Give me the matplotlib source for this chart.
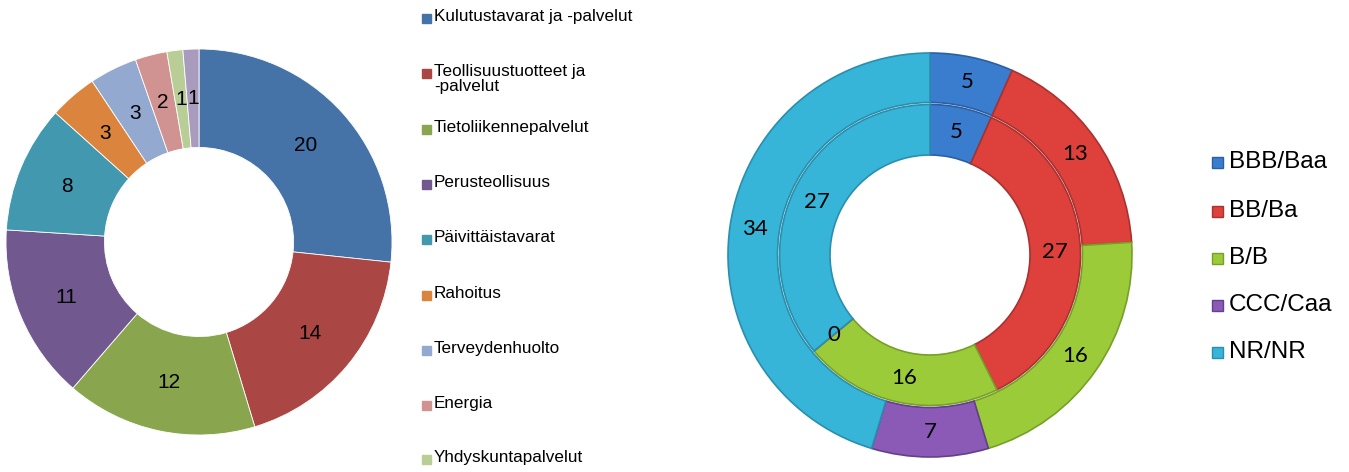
import numpy as np
import matplotlib.pyplot as plt
from matplotlib.patches import Rectangle

# left donut: sector breakdown
sectors = [
    "Kulutustavarat ja -palvelut",
    "Teollisuustuotteet ja\n-palvelut",
    "Tietoliikennepalvelut",
    "Perusteollisuus",
    "Päivittäistavarat",
    "Rahoitus",
    "Terveydenhuolto",
    "Energia",
    "Yhdyskuntapalvelut",
    "Informaatioteknologia",
]
sector_values = [20, 14, 12, 11, 8, 3, 3, 2, 1, 1]
sector_colors = ["#4572A7", "#AA4643", "#89A54E", "#71588F", "#4198AF",
                 "#DB843D", "#93A9CF", "#D19392", "#B9CD96", "#A99BBD"]

# right donut: ratings, outer and inner ring
ratings = ["BBB/Baa", "BB/Ba", "B/B", "CCC/Caa", "NR/NR"]
outer_values = [5, 13, 16, 7, 34]
inner_values = [5, 27, 16, 0, 27]
rating_colors = ["#3A7DCF", "#DE403C", "#9CCB3A", "#8A5AB6", "#36B5D8"]
rating_edges = ["#2A5FA3", "#A83230", "#76A02A", "#643F8C", "#2A8EAD"]

W, H = 1349, 472
fig = plt.figure(figsize=(W / 100, H / 100), dpi=100)


def fx(px):
    return px / W


def fy(py):
    return 1 - py / H


# ---- left donut
ax1 = fig.add_axes([fx(6), fy(242 + 193), fx(386), 386 / H])
wedges, _ = ax1.pie(
    sector_values, colors=sector_colors, startangle=90, counterclock=False,
    radius=1, wedgeprops=dict(width=0.51, edgecolor="white", linewidth=0.6),
)
for w, v in zip(wedges, sector_values):
    ang = np.deg2rad((w.theta1 + w.theta2) / 2)
    r = 0.745
    ax1.text(r * np.cos(ang), r * np.sin(ang), str(v), ha="center", va="center",
             fontsize=15, family="Liberation Sans", color="black")
ax1.set_xlim(-1, 1)
ax1.set_ylim(-1, 1)
ax1.set_aspect("equal")
ax1.axis("off")

# left legend: only the entries that fit on the canvas (the last one is cut off)
leg_y = [18, 73, 129, 184, 239, 295, 350, 405, 459]
for name, col, y in zip(sectors, sector_colors, leg_y):
    fig.patches.append(Rectangle((fx(422), fy(y + 4.5)), fx(8.5), 8.5 / H,
                                 transform=fig.transFigure, color=col))
    fig.text(fx(434), fy(y - 9), name, ha="left", va="top", fontsize=12.3,
             family="Liberation Sans", linespacing=1.0)

# ---- right donut
ax2 = fig.add_axes([fx(728), fy(255 + 202), fx(404), 404 / H])
outer, _ = ax2.pie(
    outer_values, colors=rating_colors, startangle=90, counterclock=False,
    radius=1, wedgeprops=dict(width=0.245, linewidth=1.2),
)
inner, _ = ax2.pie(
    inner_values, colors=rating_colors, startangle=90, counterclock=False,
    radius=0.745, wedgeprops=dict(width=0.25, linewidth=1.2),
)
for ring, vals, r in ((outer, outer_values, 0.875), (inner, inner_values, 0.62)):
    for w, v, ec in zip(ring, vals, rating_edges):
        w.set_edgecolor(ec)
        ang = np.deg2rad((w.theta1 + w.theta2) / 2)
        ax2.text(r * np.cos(ang), r * np.sin(ang), str(v), ha="center",
                 va="center", fontsize=16, family="Lato", color="black")
ax2.set_xlim(-1, 1)
ax2.set_ylim(-1, 1)
ax2.set_aspect("equal")
ax2.axis("off")

# right legend
r_leg_y = [162, 211, 258, 305, 352]
for name, col, ec, y in zip(ratings, rating_colors, rating_edges, r_leg_y):
    fig.patches.append(Rectangle((fx(1212), fy(y + 6)), fx(11), 11 / H,
                                 transform=fig.transFigure, facecolor=col,
                                 edgecolor=ec, linewidth=1))
    fig.text(fx(1229), fy(y), name, ha="left", va="center", fontsize=17.5,
             family="Liberation Sans")

fig.savefig("out.png", dpi=100)
